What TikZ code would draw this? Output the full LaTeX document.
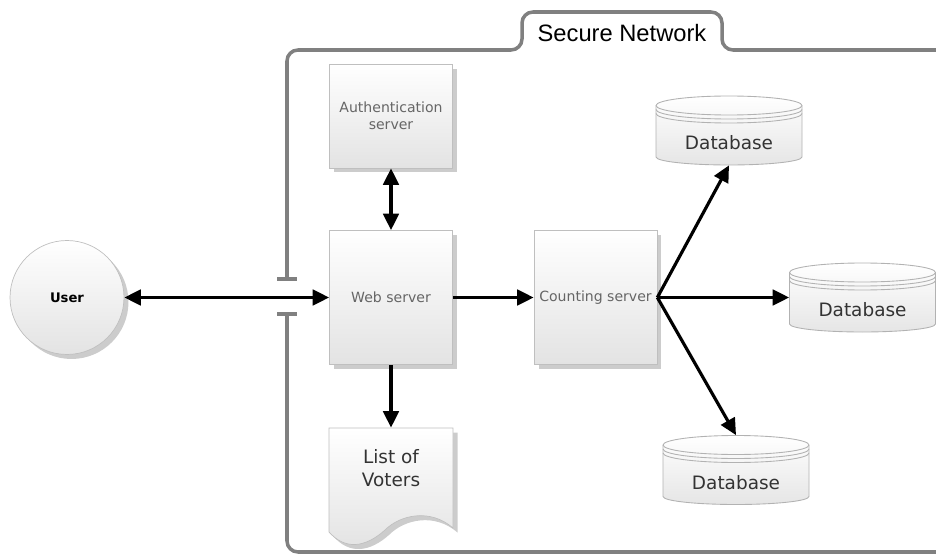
\documentclass[tikz,border=0pt]{standalone}
\usepackage{fontspec}
\setmainfont{DejaVu Sans}
\newfontfamily\arialfont{Liberation Sans}
\usetikzlibrary{shadows,arrows.meta}

\tikzset{
  server/.style={draw=gray!50, top color=white, bottom color=gray!22,
    drop shadow={shadow xshift=0.9mm,shadow yshift=-0.9mm,opacity=0.4},
    minimum width=2.46cm, inner sep=0pt, align=center,
    text=black!60, font=\fontsize{8}{9.5}\selectfont},
  flow/.style={line width=1.8pt, >={Triangle[length=3.3mm,width=3.1mm]}},
  net/.style={draw=black!50, line width=2pt, rounded corners=2.2mm},
  dbskin/.style={draw=gray!60, line width=0.5pt, top color=white, bottom color=gray!20},
  dbtext/.style={minimum width=2.92cm, minimum height=1.38cm, inner sep=0pt,
    text height=22pt, text depth=0pt, text=black!80, font=\fontsize{10.5}{13}\selectfont},
}

%% database drum, centre given in picture units
\newcommand{\dbdrum}[2]{%
  \path[dbskin] (#1-73,#2+25) -- (#1-73,#2-26.5)
    arc[start angle=180,end angle=360,x radius=73,y radius=8]
    -- (#1+73,#2+25)
    arc[start angle=0,end angle=180,x radius=73,y radius=9.5] -- cycle;
  \foreach \d in {0,4,8}
    \draw[gray!60, line width=0.5pt] (#1-73,#2+25-\d)
      arc[start angle=180,end angle=360,x radius=73,y radius=9.5];
}

\begin{document}
\begin{tikzpicture}[x=0.02cm,y=0.02cm]
  \useasboundingbox (0,0) rectangle (936,555);
  %% secure network outline
  \draw[net] (936,505) -- (722,505) -- (722,543) -- (522,543) -- (522,505)
    -- (287,505) -- (287,276);
  \draw[net] (287,241) -- (287,3) -- (936,3);
  \draw[net] (277,276) -- (297,276);
  \draw[net] (277,241) -- (297,241);
  \node[font=\arialfont\fontsize{13.5}{16}\selectfont] (title) at (622,521.5) {Secure Network};
  %% user
  \node[circle, draw=gray!50, top color=white, bottom color=gray!22,
    drop shadow={shadow xshift=0.9mm,shadow yshift=-0.9mm,opacity=0.4},
    minimum size=2.28cm, font=\bfseries\fontsize{7.5}{9}\selectfont] (user) at (67,257.5) {User};
  %% servers
  \node[server, minimum height=2.08cm] (auth) at (391,439) {Authentication\\server};
  \node[server, minimum height=2.68cm] (web) at (391,257.5) {Web server};
  \node[server, minimum height=2.68cm] (count) at (595.5,257.5) {Counting server};
  %% list of voters
  \path[top color=white, bottom color=gray!22, draw=gray!50,
    drop shadow={shadow xshift=0.9mm,shadow yshift=-0.9mm,opacity=0.4}]
    (329,127) -- (329,23) .. controls (345,5) and (365,7) .. (385,25)
    .. controls (400,40) and (430,47) .. (453,27) -- (453,127) -- cycle;
  \node[minimum width=2.48cm, minimum height=1.6cm, inner sep=0pt, align=center,
    text=black!80, font=\fontsize{10.5}{13}\selectfont] (voters) at (391,87) {List of\\Voters};
  %% databases
  \dbdrum{729}{424.5}
  \node[dbtext] (db1) at (729,424.5) {Database};
  \dbdrum{862.5}{257.5}
  \node[dbtext] (db2) at (862.5,257.5) {Database};
  \dbdrum{736}{85}
  \node[dbtext] (db3) at (736,85) {Database};
  %% connectors
  \draw[flow,<->] (user) -- (web);
  \draw[flow,<->] (auth) -- (web);
  \draw[flow,->] (web) -- (count);
  \draw[flow,->] (web) -- (voters);
  \draw[flow,->] (count.east) -- (db1.south);
  \draw[flow,->] (count.east) -- (db2.west);
  \draw[flow,->] (count.east) -- (db3.north);
\end{tikzpicture}
\end{document}
